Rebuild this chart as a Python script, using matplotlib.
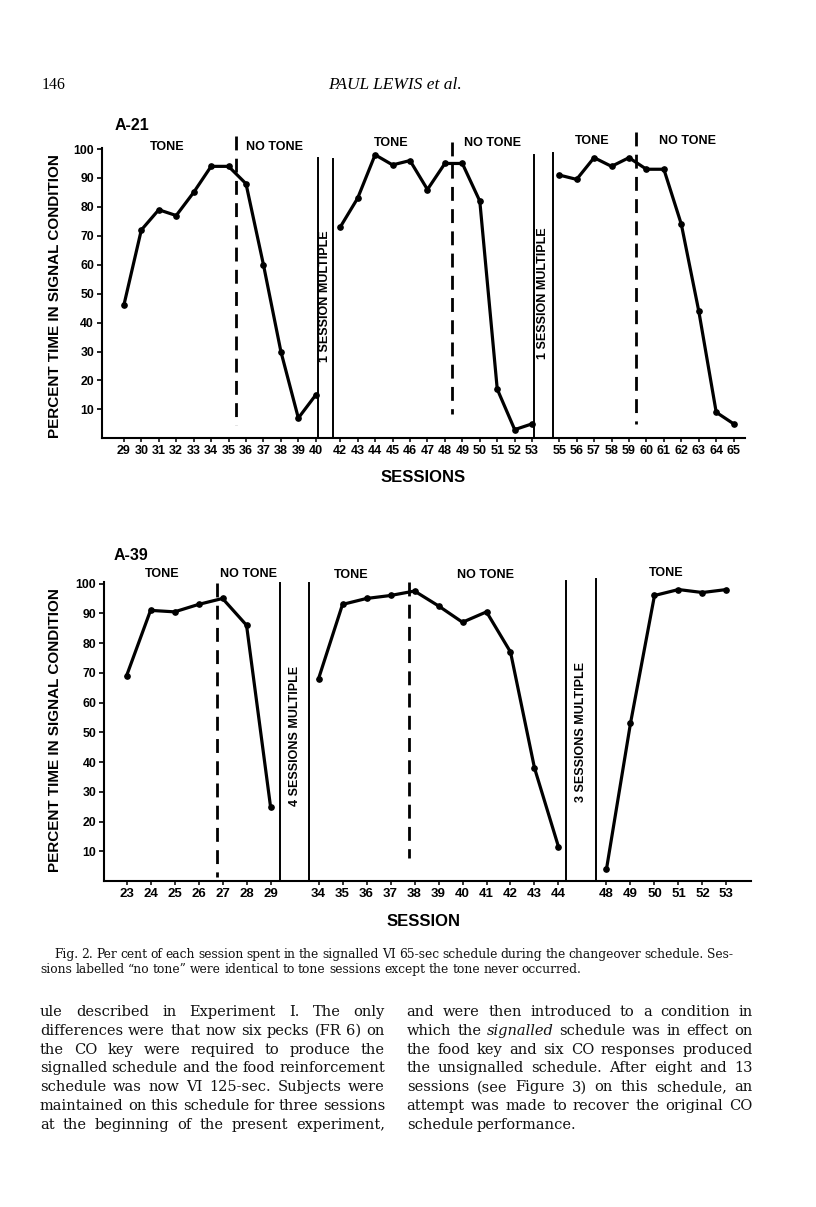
import matplotlib
matplotlib.use("Agg")
import matplotlib.pyplot as plt
from matplotlib.transforms import IdentityTransform
import numpy as np

W, H, DPI = 816, 1207, 100

# ---------------- data ----------------
a21_s1 = [29, 30, 31, 32, 33, 34, 35, 36, 37, 38, 39, 40]
a21_v1 = [46, 72, 79, 77, 85, 94, 94, 88, 60, 30, 7, 15]
a21_s2 = [42, 43, 44, 45, 46, 47, 48, 49, 50, 51, 52, 53]
a21_v2 = [73, 83, 98, 94.5, 96, 86, 95, 95, 82, 17, 3, 5]
a21_s3 = [55, 56, 57, 58, 59, 60, 61, 62, 63, 64, 65]
a21_v3 = [91, 89.5, 97, 94, 97, 93, 93, 74, 44, 9, 5]

a39_s1 = [23, 24, 25, 26, 27, 28, 29]
a39_v1 = [69, 91, 90.5, 93, 95, 86, 25]
a39_s2 = [34, 35, 36, 37, 38, 39, 40, 41, 42, 43, 44]
a39_v2 = [68, 93, 95, 96, 97.5, 92.5, 87, 90.5, 77, 38, 11.5]
a39_s3 = [48, 49, 50, 51, 52, 53]
a39_v3 = [4, 53, 96, 98, 97, 98]

y_ticks = [10, 20, 30, 40, 50, 60, 70, 80, 90, 100]

a21_last_tone = [35, 48, 59]          # tone -> no-tone change after these
a39_last_tone = [26, 37]
a21_gap_labels = ["1 SESSION MULTIPLE", "1 SESSION MULTIPLE"]
a39_gap_labels = ["4 SESSIONS MULTIPLE", "3 SESSIONS MULTIPLE"]

y_label = "PERCENT TIME IN SIGNAL CONDITION"

caption = [
    "Fig. 2. Per cent of each session spent in the signalled VI 65-sec schedule during the changeover schedule. Ses-",
    "sions labelled \u201cno tone\u201d were identical to tone sessions except the tone never occurred.",
]
left_col = [
    "ule described in Experiment I. The only",
    "differences were that now six pecks (FR 6) on",
    "the CO key were required to produce the",
    "signalled schedule and the food reinforcement",
    "schedule was now VI 125-sec. Subjects were",
    "maintained on this schedule for three sessions",
    "at the beginning of the present experiment,",
]
right_col = [
    "and were then introduced to a condition in",
    "which the signalled schedule was in effect on",
    "the food key and six CO responses produced",
    "the unsignalled schedule. After eight and 13",
    "sessions (see Figure 3) on this schedule, an",
    "attempt was made to recover the original CO",
    "schedule performance.",
]

# ---------------- figure ----------------
fig = plt.figure(figsize=(W / DPI, H / DPI), dpi=DPI)
fig.patch.set_facecolor("white")
SANS = "Liberation Sans"
SERIF = "Liberation Serif"
BODY = "DejaVu Serif"


def add_axes_px(l, t, r, b):
    return fig.add_axes([l / W, 1 - b / H, (r - l) / W, (b - t) / H])


def draw_chart(ax, segs, shifts, xlim, last_tone, dash_off, dash_top, dash_bot,
               gap_offsets, gap_tops, gap_labels, gap_label_y, cond_labels,
               xtick_fs):
    pos_all, lab_all = [], []
    pos_segs = []
    for (s, v), sh in zip(segs, shifts):
        x = np.array(s, dtype=float) - sh
        pos_segs.append(x)
        ax.plot(x, v, color="black", lw=2.3, marker="o", ms=3.8,
                solid_joinstyle="round", zorder=3)
        pos_all += list(x)
        lab_all += [str(n) for n in s]
    # dashed tone / no-tone boundaries
    for k, lt in enumerate(last_tone):
        seg = next(i for i, (s, _) in enumerate(segs) if lt in s)
        xd = lt - shifts[seg] + dash_off
        ax.plot([xd, xd], [dash_top[k], dash_bot[k]], color="black", lw=2.0,
                linestyle=(0, (5.0, 3.0)), clip_on=False, zorder=2)
    # solid lines marking omitted multiple-schedule sessions
    for g in range(len(segs) - 1):
        xa = pos_segs[g][-1] + gap_offsets[g][0]
        xb = pos_segs[g + 1][0] - gap_offsets[g][1]
        for xx, tp in zip((xa, xb), gap_tops[g]):
            ax.plot([xx, xx], [0, tp], color="black", lw=1.4, zorder=2)
        ax.text((xa + xb) / 2, gap_label_y[g], gap_labels[g], rotation=90,
                ha="center", va="center", fontsize=9.0, fontweight="bold",
                family=SANS)
    # condition labels
    for lab, xx, yy in cond_labels:
        ax.text(xx, yy, lab, ha="center", va="center", fontsize=9.0,
                fontweight="bold", family=SANS, clip_on=False)
    ax.set_xlim(*xlim)
    ax.set_ylim(0, 110)
    ax.set_xticks(pos_all)
    ax.set_xticklabels(lab_all)
    ax.set_yticks(y_ticks)
    ax.set_yticklabels([str(t) for t in y_ticks])
    for sp in ("top", "right"):
        ax.spines[sp].set_visible(False)
    ax.spines["left"].set_bounds(0, 100.4)
    for sp in ("left", "bottom"):
        ax.spines[sp].set_linewidth(1.5)
    ax.tick_params(axis="y", direction="out", length=3.5, width=1.2, pad=2.0,
                   labelsize=8.8)
    ax.tick_params(axis="x", direction="out", length=3.0, width=1.1, pad=2.0,
                   labelsize=xtick_fs)
    for t in ax.get_xticklabels() + ax.get_yticklabels():
        t.set_fontweight("bold")
        t.set_family(SANS)
    ax.patch.set_alpha(0)


# ---- top chart: A-21 ----
ax1 = add_axes_px(101.7, 438.3 - 110 * 2.893, 745, 438.3)
draw_chart(
    ax1,
    segs=[(a21_s1, a21_v1), (a21_s2, a21_v2), (a21_s3, a21_v3)],
    shifts=[0, 0.6, 1.05],
    xlim=(27.73, 64.6),
    last_tone=a21_last_tone, dash_off=0.4,
    dash_top=[104.5, 102.5, 106], dash_bot=[4.5, 8.5, 5],
    gap_offsets=[(0.1, 0.4), (0.1, 0.35)],
    gap_tops=[(96.9, 96.5), (97.9, 98.5)],
    gap_labels=a21_gap_labels, gap_label_y=[49.2, 50.2],
    cond_labels=[("TONE", 31.46, 100.8), ("NO TONE", 37.66, 100.8),
                 ("TONE", 44.3, 102), ("NO TONE", 50.14, 102),
                 ("TONE", 55.87, 102.8), ("NO TONE", 61.32, 102.8)],
    xtick_fs=9.0,
)
ax1.text(29.44, 108.2, "A-21", ha="center", va="center", fontsize=11.5,
         fontweight="bold", family=SANS, clip_on=False)

# ---- bottom chart: A-39 ----
ax2 = add_axes_px(104, 881 - 110 * 2.974, 750.7, 881)
draw_chart(
    ax2,
    segs=[(a39_s1, a39_v1), (a39_s2, a39_v2), (a39_s3, a39_v3)],
    shifts=[0, 3, 5],
    xlim=(22.06, 49.01),
    last_tone=a39_last_tone, dash_off=0.77,
    dash_top=[100.2, 100.5], dash_bot=[1.4, 7.7],
    gap_offsets=[(0.4, 0.4), (0.3, 0.45)],
    gap_tops=[(100.2, 100.2), (100.9, 101.4)],
    gap_labels=a39_gap_labels, gap_label_y=[48.8, 50.2],
    cond_labels=[("TONE", 24.47, 103.1), ("NO TONE", 28.1, 103.1),
                 ("TONE", 32.38, 102.9), ("NO TONE", 37.97, 102.9),
                 ("TONE", 45.48, 103.5)],
    xtick_fs=9.5,
)
ax2.text(23.2, 109.6, "A-39", ha="center", va="center", fontsize=11.5,
         fontweight="bold", family=SANS, clip_on=False)

# axis titles
for yc in (296, 730):
    fig.text(55 / W, 1 - yc / H, y_label, rotation=90, ha="center",
             va="center", fontsize=11.0, fontweight="bold", family=SANS)
fig.text(423 / W, 1 - 477 / H, "SESSIONS", ha="center", va="center",
         fontsize=12, fontweight="bold", family=SANS)
fig.text(423.3 / W, 1 - 921.7 / H, "SESSION", ha="center", va="center",
         fontsize=12, fontweight="bold", family=SANS)

# ---------------- page text ----------------
renderer = fig.canvas.get_renderer()
IDT = IdentityTransform()


def put_line(words, x0, x1, y_base, fs, family, styles=None, justify=True):
    texts, widths = [], []
    for i, w in enumerate(words):
        st = styles[i] if styles else "normal"
        t = fig.text(0, 0, w, fontsize=fs, family=family, style=st,
                     transform=IDT, ha="left", va="baseline", color="#111111")
        texts.append(t)
        widths.append(t.get_window_extent(renderer).width)
    natural = fs * DPI / 72 * 0.28
    if justify and len(words) > 1:
        gap = (x1 - x0 - sum(widths)) / (len(words) - 1)
    else:
        gap = natural
    x = x0
    for t, w in zip(texts, widths):
        t.set_position((x, H - y_base))
        x += w + gap


# running head
fig.text(42 / W, 1 - 89 / H, "146", fontsize=11.5, family=SERIF,
         ha="left", va="baseline")
fig.text(395 / W, 1 - 89 / H, "PAUL LEWIS et al.", fontsize=12.5,
         family=SERIF, style="italic", ha="center", va="baseline")

# caption
put_line(caption[0].split(), 54, 733, 958.3, 8.8, BODY, justify=True)
put_line(caption[1].split(), 40, 733, 973.3, 8.8, BODY, justify=False)

# body columns
for i, line in enumerate(left_col):
    put_line(line.split(), 40, 385, 1016 + i * 18.8, 10.5, BODY, justify=True)
for i, line in enumerate(right_col):
    words = line.split()
    styles = ["italic" if (i == 1 and w == "signalled") else "normal"
              for w in words]
    put_line(words, 406.7, 752.7, 1016 + i * 18.8, 10.5, BODY, styles=styles,
             justify=(i < len(right_col) - 1))

fig.savefig("out.png", dpi=DPI, facecolor="white")
